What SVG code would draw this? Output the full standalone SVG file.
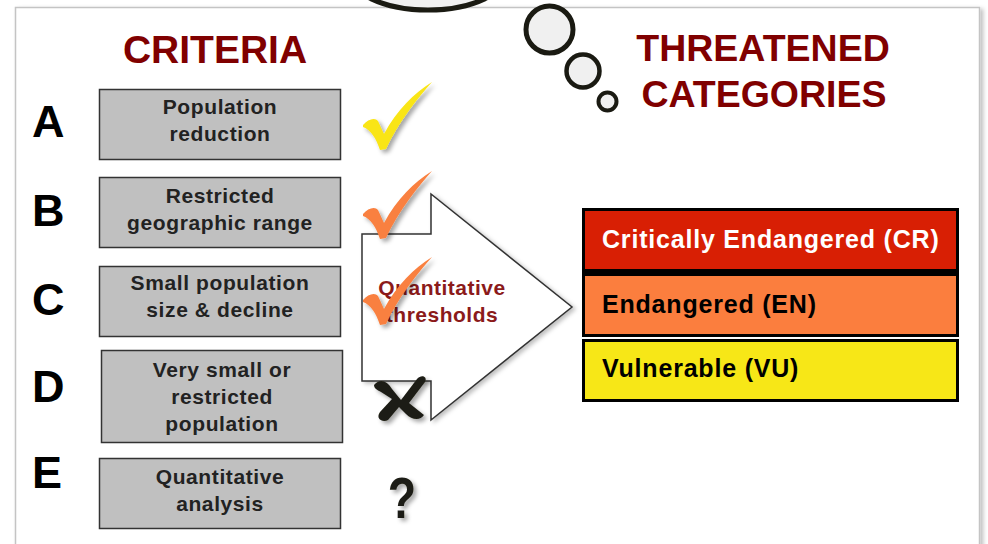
<svg xmlns="http://www.w3.org/2000/svg" width="988" height="544" viewBox="0 0 988 544">
<style>
text{font-family:"Liberation Sans",Arial,sans-serif;font-weight:bold}
.crit{fill:#c0c0c0;stroke:#333;stroke-width:1.5}
.ct{font-size:21px;fill:#222;letter-spacing:0.6px;text-anchor:middle}
.letter{font-size:45px;fill:#000}
.head{fill:#800000;text-anchor:middle}
.cat{font-size:25px;letter-spacing:0.8px}
.bub{fill:#f0f0f0;stroke:#1a1a12}
</style>
<defs>
<filter id="sh" x="-30%" y="-30%" width="160%" height="160%">
<feDropShadow dx="3" dy="3" stdDeviation="2" flood-color="#000" flood-opacity="0.35"/>
</filter>
<filter id="fsh" x="-5%" y="-5%" width="110%" height="110%">
<feDropShadow dx="3" dy="2" stdDeviation="2" flood-color="#000" flood-opacity="0.25"/>
</filter>
<path id="check" d="M363,125 C368,119 375,117 378,121 L384,134 C397,110 414,93 432,82 C418,98 399,121 386,149 L380,150 C376,138 371,130 363,127 Z"/>
</defs>
<rect width="988" height="544" fill="#fff"/>
<rect x="15.5" y="7.5" width="964" height="560" fill="#fff" stroke="#c4c4c4" stroke-width="1.5" filter="url(#fsh)"/>

<g id="thought-bubble">
<ellipse class="bub" cx="428" cy="-28" rx="80" ry="38" stroke-width="5"/>
<circle class="bub" cx="549.5" cy="29.5" r="23.5" stroke-width="5"/>
<circle class="bub" cx="583" cy="71" r="16.5" stroke-width="4.5"/>
<circle class="bub" cx="607.5" cy="101.5" r="9" stroke-width="4"/>
</g>

<g id="title-criteria"><text class="head" x="215" y="63" font-size="39">CRITERIA</text></g>
<g id="title-threatened">
<text class="head" x="763" y="61" font-size="37.5">THREATENED</text>
<text class="head" x="764" y="107" font-size="37.5">CATEGORIES</text>
</g>

<g id="criterion-A">
<text class="letter" x="32" y="137">A</text>
<rect class="crit" x="99.5" y="89.5" width="241" height="70"/>
<text class="ct" x="220" y="114">Population</text>
<text class="ct" x="220" y="141">reduction</text>
</g>
<g id="criterion-B">
<text class="letter" x="32" y="226">B</text>
<rect class="crit" x="99.5" y="177.5" width="241" height="70"/>
<text class="ct" x="220" y="203">Restricted</text>
<text class="ct" x="220" y="230">geographic range</text>
</g>
<g id="criterion-C">
<text class="letter" x="32" y="315">C</text>
<rect class="crit" x="99.5" y="266.5" width="241" height="70"/>
<text class="ct" x="220" y="290">Small population</text>
<text class="ct" x="220" y="317">size &amp; decline</text>
</g>
<g id="criterion-D">
<text class="letter" x="32" y="402">D</text>
<rect class="crit" x="101.5" y="350.5" width="241" height="92"/>
<text class="ct" x="222" y="377">Very small or</text>
<text class="ct" x="222" y="404">restricted</text>
<text class="ct" x="222" y="431">population</text>
</g>
<g id="criterion-E">
<text class="letter" x="32" y="488">E</text>
<rect class="crit" x="99.5" y="458.5" width="241" height="70"/>
<text class="ct" x="220" y="484">Quantitative</text>
<text class="ct" x="220" y="511">analysis</text>
</g>

<g id="connectors">
<path d="M362,234 L431,234 L431,194 L572,307 L431,420 L431,381 L362,381 Z" fill="#fff" stroke="#333" stroke-width="1.5" filter="url(#fsh)"/>
<text x="442" y="295" font-size="21" fill="#8b1a1a" text-anchor="middle" letter-spacing="0.5">Quantitative</text>
<text x="442" y="322" font-size="21" fill="#8b1a1a" text-anchor="middle" letter-spacing="0.5">thresholds</text>
</g>

<g id="marks">
<use href="#check" fill="#f9e514" filter="url(#sh)"/>
<use href="#check" fill="#f9803f" transform="translate(0,89)" filter="url(#sh)"/>
<use href="#check" fill="#f9803f" transform="translate(0,175)" filter="url(#sh)"/>
<g filter="url(#sh)" fill="#1e1e14">
<path d="M374,385 C380,378 387,381 392,389 L401,400 L417,379 C421,374 428,376 425,382 L409,403 L424,415 C420,421 412,420 406,414 L399,407 L388,420 C383,423 375,419 380,412 L392,399 L381,392 C378,390 374,389 374,385 Z"/>
<text x="402" y="518" font-size="58" text-anchor="middle" transform="translate(402,518) scale(0.8,1) translate(-402,-518)">?</text>
</g>
</g>

<g id="cat-CR-EN">
<rect x="582" y="208" width="377" height="129" fill="#000"/>
<rect x="585" y="211" width="371" height="58" fill="#d81f04"/>
<text class="cat" x="602" y="248" fill="#fff">Critically Endangered (CR)</text>
</g>
<g id="cat-EN">
<rect x="585" y="276" width="371" height="58" fill="#fb7e3e"/>
<text class="cat" x="602" y="313" fill="#000">Endangered (EN)</text>
</g>
<g id="cat-VU">
<rect x="582" y="339" width="377" height="63" fill="#000"/>
<rect x="585" y="342" width="371" height="57" fill="#f7e717"/>
<text class="cat" x="602" y="377" fill="#000">Vulnerable (VU)</text>
</g>
</svg>
